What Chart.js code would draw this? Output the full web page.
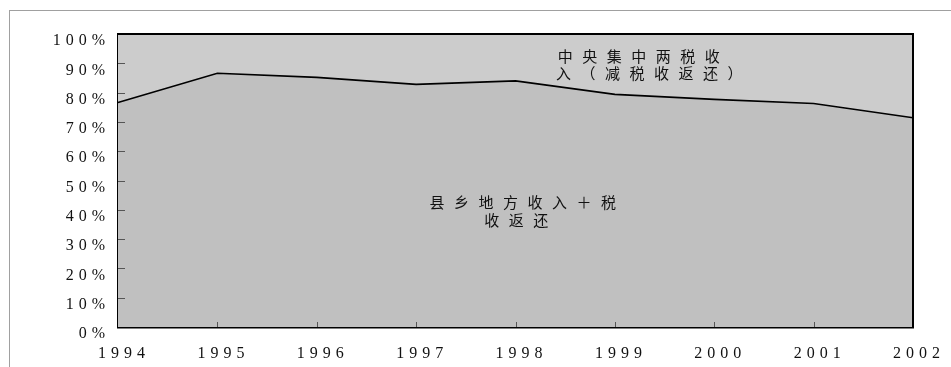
<!DOCTYPE html>
<html>
<head>
<meta charset="utf-8">
<script src="https://cdn.jsdelivr.net/npm/chart.js@4/dist/chart.umd.min.js"></script>
<style>
  html, body { margin: 0; padding: 0; background: #ffffff; }
  #wrap { position: relative; width: 951px; height: 367px; overflow: hidden; }
  #frame { position: absolute; left: 9px; top: 10px; right: 0; bottom: 0;
           border-left: 1px solid #a0a0a0; border-top: 1px solid #a0a0a0; }
  canvas { position: absolute; left: 0; top: 0; }
</style>
</head>
<body>
<div id="wrap">
  <div id="frame"></div>
  <canvas id="c" width="951" height="367"></canvas>
</div>
<script>
// Years on the horizontal axis
const years = ['1994', '1995', '1996', '1997', '1998', '1999', '2000', '2001', '2002'];
// Share of county/township local revenue plus tax rebates (%)
const localShare = [76.6, 86.6, 85.2, 82.8, 84.0, 79.4, 77.7, 76.3, 71.4];
// Share concentrated by the centre from the two taxes, net of rebates (%)
const centralShare = [23.4, 13.4, 14.8, 17.2, 16.0, 20.6, 22.3, 23.7, 28.6];
// Vertical tick values
const yTicks = [0, 10, 20, 30, 40, 50, 60, 70, 80, 90, 100];

const upperLabel = ['中央集中两税收', '入（减税收返还）'];
const lowerLabel = ['县乡地方收入＋税', '收返还'];

const tickFont = { family: "'Liberation Serif', 'DejaVu Serif', serif", size: 16 };
const cjkFont = "15px 'Noto Sans CJK SC', sans-serif";

// Letter spacing for the axis numbers, top/right frame, inward tick marks, and in-area captions
const decorations = {
  id: 'decorations',
  beforeDraw(chart) {
    chart.ctx.letterSpacing = '5px';
  },
  afterDatasetsDraw(chart) {
    const { ctx, chartArea: a, scales } = chart;
    ctx.save();
    ctx.letterSpacing = '0px';
    // short inward ticks on the value axis
    ctx.strokeStyle = '#555555';
    ctx.lineWidth = 1;
    yTicks.slice(1, -1).forEach(v => {
      const y = Math.round(scales.y.getPixelForValue(v)) + 0.5;
      ctx.beginPath();
      ctx.moveTo(a.left, y);
      ctx.lineTo(a.left + 7, y);
      ctx.stroke();
    });
    // short inward ticks on the year axis
    years.slice(1, -1).forEach((_, i) => {
      const x = Math.round(scales.x.getPixelForValue(i + 1)) + 0.5;
      ctx.beginPath();
      ctx.moveTo(x, a.bottom);
      ctx.lineTo(x, a.bottom - 5);
      ctx.stroke();
    });
    // top and right edges of the plot frame
    ctx.strokeStyle = '#000000';
    ctx.lineWidth = 2;
    ctx.beginPath();
    ctx.moveTo(a.left, a.top);
    ctx.lineTo(a.right, a.top);
    ctx.lineTo(a.right, a.bottom);
    ctx.stroke();

    // captions inside the two areas
    ctx.fillStyle = '#111111';
    ctx.font = cjkFont;
    ctx.letterSpacing = '9.5px';
    ctx.textBaseline = 'middle';
    ctx.textAlign = 'left';
    const w = a.right - a.left, h = a.bottom - a.top;
    ctx.fillText(upperLabel[0], a.left + w * 0.553, a.top + h * 0.077);
    ctx.fillText(upperLabel[1], a.left + w * 0.551, a.top + h * 0.135);
    ctx.textAlign = 'center';
    ctx.fillText(lowerLabel[0], a.left + w * 0.515, a.top + h * 0.575);
    ctx.fillText(lowerLabel[1], a.left + w * 0.507, a.top + h * 0.636);
    ctx.restore();
  },
  afterDraw(chart) {
    chart.ctx.letterSpacing = '0px';
  }
};

new Chart(document.getElementById('c'), {
  type: 'line',
  data: {
    labels: years,
    datasets: [
      {
        label: '县乡地方收入＋税收返还',
        data: localShare,
        borderColor: '#000000',
        borderWidth: 1.6,
        backgroundColor: '#c0c0c0',
        fill: 'origin',
        pointRadius: 0,
        tension: 0
      },
      {
        label: '中央集中两税收入（减税收返还）',
        data: centralShare,
        borderWidth: 0,
        borderColor: 'rgba(0,0,0,0)',
        backgroundColor: '#cccccc',
        fill: '-1',
        pointRadius: 0,
        tension: 0
      }
    ]
  },
  options: {
    responsive: false,
    devicePixelRatio: 1,
    animation: false,
    events: [],
    layout: { padding: { top: 34, right: 38, left: 0, bottom: 0 } },
    plugins: {
      legend: { display: false },
      tooltip: { enabled: false }
    },
    scales: {
      x: {
        type: 'category',
        offset: false,
        grid: { display: false, drawTicks: false },
        border: { display: true, color: '#000000', width: 2.5 },
        ticks: {
          font: tickFont,
          color: '#111111',
          padding: 17,
          labelOffset: 6,
          autoSkip: false,
          maxRotation: 0,
          minRotation: 0
        },
        afterFit(scale) { scale.height = 40; }
      },
      y: {
        stacked: true,
        min: 0,
        max: 100,
        afterBuildTicks(scale) { scale.ticks = yTicks.map(v => ({ value: v })); },
        grid: { display: false, drawTicks: false },
        border: { display: true, color: '#000000', width: 3 },
        ticks: {
          font: tickFont,
          color: '#111111',
          padding: 8,
          labelOffset: 7,
          callback: v => v + '%'
        },
        afterFit(scale) { scale.width = 118; }
      }
    }
  },
  plugins: [decorations]
});
</script>
</body>
</html>
